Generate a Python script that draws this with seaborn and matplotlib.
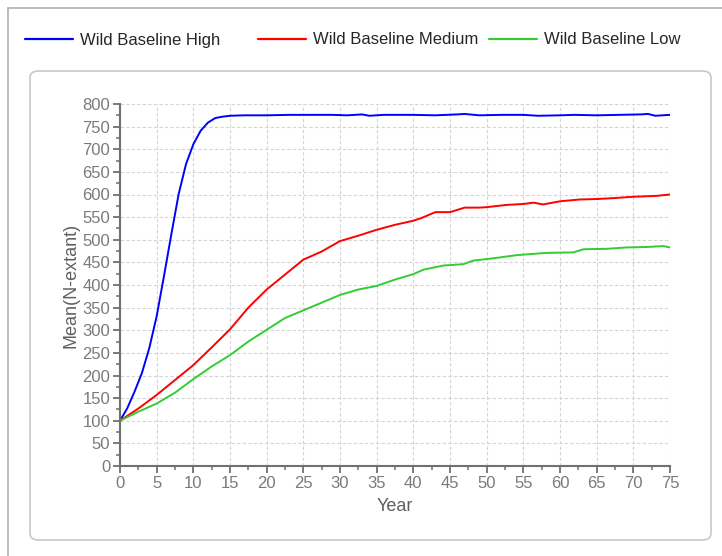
import numpy as np
import pandas as pd
import matplotlib.pyplot as plt
from matplotlib.patches import FancyBboxPatch
from matplotlib.ticker import MultipleLocator
import seaborn as sns

# values
high_years = [0, 1, 2, 3, 4, 5, 6, 7, 8, 9, 10, 11, 12, 13, 14, 15, 17, 20, 23, 26, 29, 31,
              33, 34, 36, 40, 43, 46, 47, 49, 52, 55, 57, 60, 62, 65, 68, 71, 72, 73, 75]
high_vals = [100, 128, 165, 206, 261, 331, 420, 512, 601, 667, 711, 741, 759, 769, 772, 774,
             775, 775, 776, 776, 776, 775, 777, 774, 776, 776, 775, 777, 778, 775, 776, 776,
             774, 775, 776, 775, 776, 777, 778, 774, 776]

med_years = [0, 2.5, 5, 7.5, 10, 12.5, 15, 17.5, 20, 22.5, 25, 27.5, 30, 32.5, 35, 37.5, 40,
             41.1, 43, 45, 47, 49, 50, 52.7, 55, 56.4, 57.7, 60, 62.7, 65, 67.3, 70, 73.2, 75]
med_vals = [100, 127, 157, 190, 223, 262, 302, 350, 390, 423, 456, 474, 497, 509, 522, 533,
            542, 548, 561, 561, 571, 571, 572, 577, 579, 582, 578, 585, 589, 590, 592, 595,
            597, 600]

low_years = [0, 2.5, 5, 7.5, 10, 12.5, 15, 17.5, 20, 22.5, 25, 27.5, 30, 32.5, 35, 37.5, 40,
             41.4, 44.1, 46.8, 48.2, 50.9, 54.1, 58.2, 61.8, 63.2, 66.4, 69.1, 71.8, 74.1, 75]
low_vals = [100, 120, 138, 162, 192, 220, 245, 275, 301, 327, 344, 361, 378, 390, 398, 412,
            424, 434, 443, 446, 454, 459, 466, 471, 472, 479, 480, 483, 484, 486, 483]

series_names = ["Wild Baseline High", "Wild Baseline Medium", "Wild Baseline Low"]
colors = {"Wild Baseline High": "#0000ff",
          "Wild Baseline Medium": "#ff0000",
          "Wild Baseline Low": "#33cc33"}

df = pd.concat([
    pd.DataFrame({"Year": high_years, "Value": high_vals, "Series": series_names[0]}),
    pd.DataFrame({"Year": med_years, "Value": med_vals, "Series": series_names[1]}),
    pd.DataFrame({"Year": low_years, "Value": low_vals, "Series": series_names[2]}),
])

sns.set_style("white")
plt.rcParams['font.family'] = ['Liberation Sans', 'DejaVu Sans']

fig = plt.figure(figsize=(7.22, 5.56), dpi=100)
W, H = 722, 556

# outer frame lines and inner rounded panel (kept behind the axes)
fig.add_artist(plt.Line2D([8 / W, 1], [1 - 8 / H, 1 - 8 / H], color="#b0b0b0", lw=1.2, zorder=-2))
fig.add_artist(plt.Line2D([8 / W, 8 / W], [0, 1 - 8 / H], color="#b0b0b0", lw=1.2, zorder=-2))
fig.add_artist(FancyBboxPatch((30 / W, 1 - 540 / H), 681 / W, 469 / H,
                              boxstyle="round,pad=0,rounding_size=0.012",
                              transform=fig.transFigure, fc="white", ec="#c8c8c8", lw=1.2,
                              zorder=-1))

ax = fig.add_axes([120 / W, 1 - 466 / H, 550 / W, 362 / H])
ax.set_facecolor("none")

sns.lineplot(data=df, x="Year", y="Value", hue="Series", hue_order=series_names,
             palette=colors, linewidth=1.4, ax=ax, legend=False, sort=False,
             estimator=None)

ax.set_xlim(0, 75)
ax.set_ylim(0, 800)
ax.xaxis.set_major_locator(MultipleLocator(5))
ax.xaxis.set_minor_locator(MultipleLocator(2.5))
ax.yaxis.set_major_locator(MultipleLocator(50))
ax.yaxis.set_minor_locator(MultipleLocator(25))
ax.grid(True, which="major", color="#d4d4d4", linestyle=(0, (3, 2)), linewidth=0.8)

for s in ["top", "right"]:
    ax.spines[s].set_visible(False)
for s in ["left", "bottom"]:
    ax.spines[s].set_color("#707070")
    ax.spines[s].set_linewidth(1.5)

ax.tick_params(which="major", direction="out", length=5, width=1.3, color="#707070",
               labelsize=12, labelcolor="#7a7a7a", pad=2)
ax.tick_params(which="minor", direction="out", length=3, width=1.1, color="#707070")
ax.tick_params(axis="y", which="both", left=True)
ax.tick_params(axis="x", which="both", bottom=True)

ax.set_xlabel("Year", fontsize=13, color="#606060", labelpad=5)
ax.set_ylabel("Mean(N-extant)", fontsize=13, color="#606060", labelpad=2)

# one legend per entry so each sits where the reference has it
legend_x = [25, 258, 489]
for name, lx in zip(series_names, legend_x):
    h = plt.Line2D([], [], color=colors[name], lw=1.6)
    fig.legend([h], [name], loc="center left", bbox_to_anchor=(lx / W, 1 - 40 / H),
               frameon=False, fontsize=12, handlelength=2.9, handletextpad=0.42,
               borderaxespad=0, borderpad=0)

fig.savefig("out.png", dpi=100, facecolor="white")
